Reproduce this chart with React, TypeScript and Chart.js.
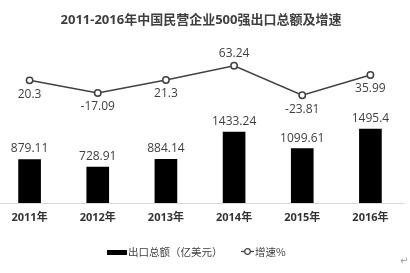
import React, { useEffect, useRef } from "react";
import { Chart, registerables } from "chart.js";

Chart.register(...registerables);

const categories = ["2011年", "2012年", "2013年", "2014年", "2015年", "2016年"];
const exportTotals = [879.11, 728.91, 884.14, 1433.24, 1099.61, 1495.4];
const growthRates = [20.3, -17.09, 21.3, 63.24, -23.81, 35.99];
const barLabels = ["879.11", "728.91", "884.14", "1433.24", "1099.61", "1495.4"];
const lineLabels = ["20.3", "-17.09", "21.3", "63.24", "-23.81", "35.99"];
const titleText = "2011-2016年中国民营企业500强出口总额及增速";
const barSeriesName = "出口总额（亿美元）";
const lineSeriesName = "增速%";

const LABEL_COLOR = "#404040";
const LINE_COLOR = "#404040";

const valueLabelPlugin = {
  id: "valueLabels",
  afterDatasetsDraw(chart: any) {
    const ctx = chart.ctx;
    ctx.save();
    ctx.font = '12px "Open Sans", "Noto Sans CJK SC", sans-serif';
    ctx.fillStyle = LABEL_COLOR;
    ctx.textAlign = "center";
    ctx.textBaseline = "middle";
    const barMeta = chart.getDatasetMeta(0);
    barMeta.data.forEach((el: any, i: number) => {
      ctx.fillText(barLabels[i], el.x, el.y - 10.5);
    });
    const lineMeta = chart.getDatasetMeta(1);
    const maxVal = Math.max(...growthRates);
    lineMeta.data.forEach((el: any, i: number) => {
      const above = growthRates[i] === maxVal;
      ctx.fillText(lineLabels[i], el.x, above ? el.y - 12.7 : el.y + 14);
    });
    ctx.restore();
  },
};

export default function App() {
  const canvasRef = useRef<HTMLCanvasElement | null>(null);

  useEffect(() => {
    if (!canvasRef.current) return;
    const chart = new Chart(canvasRef.current, {
      type: "bar",
      data: {
        labels: categories,
        datasets: [
          {
            type: "bar",
            label: barSeriesName,
            data: exportTotals,
            backgroundColor: "#000000",
            barThickness: 22,
            yAxisID: "y",
            order: 2,
          } as any,
          {
            type: "line",
            label: lineSeriesName,
            data: growthRates,
            borderColor: LINE_COLOR,
            borderWidth: 1.5,
            pointRadius: 3.2,
            pointBackgroundColor: "#ffffff",
            pointBorderColor: LINE_COLOR,
            pointBorderWidth: 1.5,
            tension: 0,
            yAxisID: "y1",
            order: 1,
          } as any,
        ],
      },
      options: {
        animation: false,
        responsive: false,
        maintainAspectRatio: false,
        layout: { padding: { left: 2.35, right: 1.8, top: 30, bottom: 40.8 } },
        plugins: {
          legend: { display: false },
          title: { display: false },
          tooltip: { enabled: false },
        },
        scales: {
          x: {
            offset: true,
            grid: { display: false, drawTicks: false },
            border: { display: true, color: "#d9d9d9", width: 1 },
            ticks: {
              padding: 8,
              color: "#333333",
              font: { family: '"Open Sans", "Noto Sans CJK SC", sans-serif', size: 11, weight: "bold" },
            },
          },
          y: { display: false, min: 0, max: 3500 },
          y1: { display: false, min: -342, max: 169 },
        },
      },
      plugins: [valueLabelPlugin],
    } as any);
    return () => chart.destroy();
  }, []);

  return (
    <div style={{ position: "absolute", left: 0, top: 0, width: 410, height: 273, overflow: "hidden", background: "#ffffff" }}>
      <canvas
        ref={canvasRef}
        width={420}
        height={273}
        style={{ position: "absolute", left: -10, top: 0, width: 420, height: 273 }}
      />
      <div
        style={{
          position: "absolute",
          left: 0,
          top: 11,
          width: 402,
          textAlign: "center",
          font: 'bold 13px "Open Sans", "Noto Sans CJK SC", sans-serif',
          lineHeight: "16px",
          color: "#3f3f3f",
          whiteSpace: "nowrap",
        }}
      >
        {titleText}
      </div>
      <div style={{ position: "absolute", left: 107, top: 249.5, width: 20, height: 5, background: "#000000" }} />
      <div
        style={{
          position: "absolute",
          left: 128,
          top: 245.7,
          font: '10.5px "Noto Sans CJK SC", sans-serif',
          lineHeight: "12px",
          color: LABEL_COLOR,
          whiteSpace: "nowrap",
        }}
      >
        {barSeriesName}
      </div>
      <svg style={{ position: "absolute", left: 240, top: 246 }} width={15} height={11}>
        <line x1={1} y1={5.5} x2={14} y2={5.5} stroke={LINE_COLOR} strokeWidth={1.3} />
        <circle cx={7.5} cy={5.5} r={2.8} fill="#ffffff" stroke={LINE_COLOR} strokeWidth={1.2} />
      </svg>
      <div
        style={{
          position: "absolute",
          left: 255,
          top: 245.7,
          font: '10.5px "Noto Sans CJK SC", sans-serif',
          lineHeight: "12px",
          color: LABEL_COLOR,
          whiteSpace: "nowrap",
        }}
      >
        {lineSeriesName}
      </div>
      <div
        style={{
          position: "absolute",
          left: 400,
          top: 255,
          font: '10px "DejaVu Sans", sans-serif',
          lineHeight: "12px",
          color: "#9a9a9a",
        }}
      >
        ↵
      </div>
    </div>
  );
}
